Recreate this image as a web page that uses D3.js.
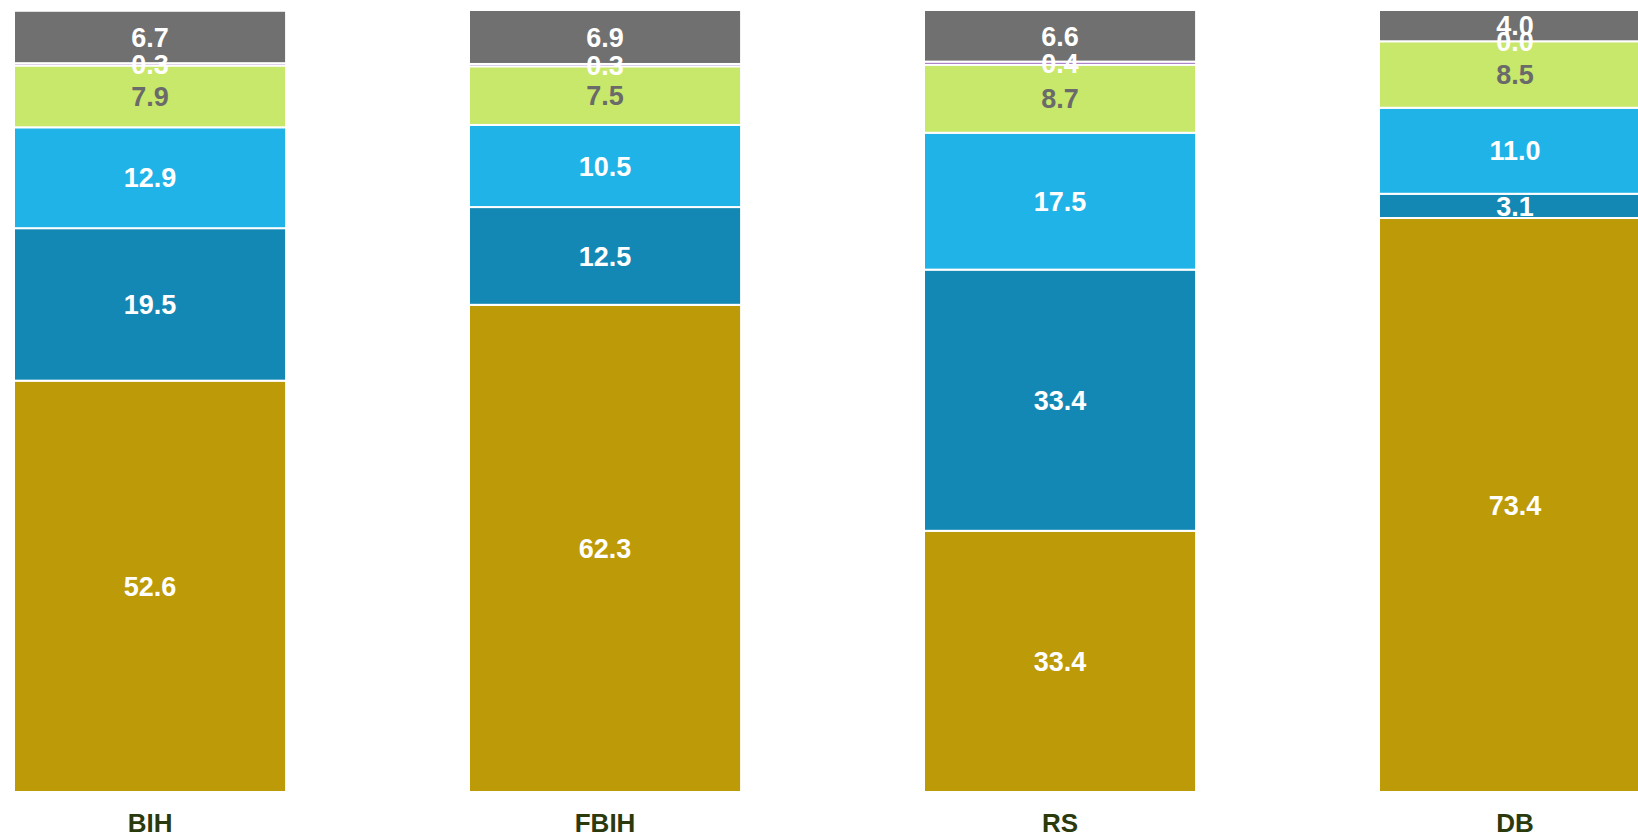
<!DOCTYPE html>
<html>
<head>
<meta charset="utf-8">
<script src="https://cdn.jsdelivr.net/npm/d3@7"></script>
<style>
  html, body { margin: 0; padding: 0; background: #fff; overflow: hidden; }
  svg { display: block; font-family: "Liberation Sans", Arial, sans-serif; }
</style>
</head>
<body>
<svg width="1638" height="837"></svg>
<script>
// categories and stacked series (bottom to top), values in %
const categories = ["BIH", "FBIH", "RS", "DB"];
const seriesNames = ["s1", "s2", "s3", "s4", "s5", "s6"];
const s1 = [52.6, 62.3, 33.4, 73.4];
const s2 = [19.5, 12.5, 33.4, 3.1];
const s3 = [12.9, 10.5, 17.5, 11.0];
const s4 = [7.9, 7.5, 8.7, 8.5];
const s5 = [0.3, 0.3, 0.4, 0.0];
const s6 = [6.7, 6.9, 6.6, 4.0];
const seriesColors = ["#bd9a07", "#1488b5", "#1fb3e8", "#c8e86b", "#8e5bb5", "#707070"];
const labelColors = ["#fff", "#fff", "#fff", "#6a6a6a", "#fff", "#fff"];

const svg = d3.select("svg");
const margin = {top: 10, bottom: 45, left: 14};
const h = 837;

// build rows for d3.stack
const rows = categories.map((c, i) => ({
  cat: c, s1: s1[i], s2: s2[i], s3: s3[i], s4: s4[i], s5: s5[i], s6: s6[i]
}));
const stacked = d3.stack().keys(seriesNames)(rows);

const x = d3.scaleBand()
  .domain(categories)
  .range([margin.left, margin.left + 455 * (4 - 0.402)])
  .paddingInner(0.402)
  .paddingOuter(0);
const y = d3.scaleLinear().domain([0, 100]).range([h - margin.bottom, margin.top]);

const layers = svg.selectAll("g.layer")
  .data(stacked)
  .enter().append("g")
  .attr("class", "layer")
  .attr("fill", (d, i) => seriesColors[i]);

layers.selectAll("rect")
  .data(d => d)
  .enter().append("rect")
  .attr("x", d => x(d.data.cat))
  .attr("y", d => y(d[1]))
  .attr("width", x.bandwidth())
  .attr("height", d => Math.max(0, y(d[0]) - y(d[1])))
  .attr("stroke", "#fff")
  .attr("stroke-width", 2);

// value labels
stacked.forEach((layer, li) => {
  svg.append("g").selectAll("text")
    .data(layer)
    .enter().append("text")
    .attr("x", d => x(d.data.cat) + x.bandwidth() / 2)
    .attr("y", d => y((d[0] + d[1]) / 2))
    .attr("dy", "0.36em")
    .attr("text-anchor", "middle")
    .attr("font-size", 27)
    .attr("font-weight", "bold")
    .attr("fill", labelColors[li])
    .text(d => (d[1] - d[0]).toFixed(1));
});

// category axis
const xAxis = d3.axisBottom(x).tickSize(0).tickPadding(0);
const ax = svg.append("g")
  .attr("transform", "translate(0," + (h - margin.bottom) + ")")
  .call(xAxis);
ax.select(".domain").remove();
ax.selectAll("text")
  .attr("y", 31)
  .attr("dy", "0.36em")
  .attr("font-size", 26)
  .attr("font-weight", "bold")
  .attr("font-family", "\"Liberation Sans\", Arial, sans-serif")
  .attr("fill", "#2b3a0c");
</script>
</body>
</html>
